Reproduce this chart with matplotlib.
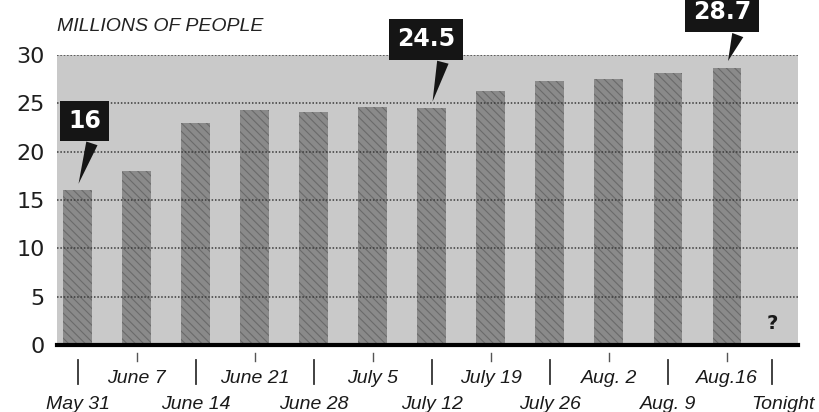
import matplotlib
matplotlib.use("Agg")
import matplotlib.pyplot as plt

# weekly audience, millions of people
weeks = ["May 31", "June 7", "June 14", "June 21", "June 28", "July 5",
         "July 12", "July 19", "July 26", "Aug. 2", "Aug. 9", "Aug.16", "Tonight"]
viewers = [16, 18.0, 23.0, 24.3, 24.1, 24.6, 24.5, 26.3, 27.3, 27.5, 28.1, 28.7]
callouts = {0: "16", 6: "24.5", 11: "28.7"}
yticks = [0, 5, 10, 15, 20, 25, 30]

plt.rcParams["font.family"] = ["Liberation Sans", "DejaVu Sans"]
plt.rcParams["hatch.linewidth"] = 0.8

fig = plt.figure(figsize=(8.2, 4.12), dpi=100)
ax = fig.add_axes([0.0695, 0.1626, 0.9035, 0.704])
ax.set_facecolor("#c9c9c9")

x = list(range(len(viewers)))
ax.bar(x, viewers, width=0.49, color="#8a8a8a", hatch="\\\\\\\\",
       edgecolor="#6a6a6a", linewidth=0, zorder=2)

for v in yticks[1:]:
    ax.axhline(v, color="#3a3a3a", linestyle=(0, (1, 1.2)), linewidth=1.1, zorder=3)

ax.set_xlim(-0.35, 12.2)
ax.set_ylim(0, 30)
for s in ["top", "right", "left"]:
    ax.spines[s].set_visible(False)
ax.spines["bottom"].set_linewidth(3)
ax.spines["bottom"].set_zorder(5)

ax.set_yticks(yticks)
ax.set_yticklabels([str(v) for v in yticks], family="DejaVu Sans", fontsize=16, color="#1e1e1e")
ax.tick_params(axis="y", length=0, pad=9)
ax.set_xticks([])

# date labels on two rows with tick marks
xt = ax.get_xaxis_transform()
for i, name in enumerate(weeks):
    pos = i if name != "Tonight" else i - 0.24
    if i % 2 == 0:
        ax.plot([pos, pos], [-0.05, -0.135], transform=xt, color="#333", lw=1.3, clip_on=False)
        lx = pos if name != "Tonight" else i - 0.05
        ax.annotate(name, (lx, 0), xycoords=xt, xytext=(0, -46), textcoords="offset points",
                    ha="center", va="baseline", fontsize=14, style="italic", color="#1a1a1a")
    else:
        ax.plot([pos, pos], [-0.028, -0.055], transform=xt, color="#555", lw=1.0, clip_on=False)
        ax.annotate(name, (pos, 0), xycoords=xt, xytext=(0, -27), textcoords="offset points",
                    ha="center", va="baseline", fontsize=14, style="italic", color="#1a1a1a")

ax.text(len(weeks) - 1.24, 1.2, "?", ha="center", va="bottom", fontsize=14,
        fontweight="bold", color="#1a1a1a", family="DejaVu Sans")

# black callout boxes with slanted pointers
offsets = {0: (0.12, 23.2), 6: (5.9, 31.6), 11: (10.92, 34.4)}
for i, label in callouts.items():
    ax.annotate(label, (i, viewers[i] + 0.4), xytext=offsets[i], textcoords="data",
                ha="center", va="center", fontsize=17, fontweight="bold", color="white",
                family="DejaVu Sans", annotation_clip=False, zorder=6,
                bbox=dict(boxstyle="square,pad=0.34", fc="#151515", ec="none"),
                arrowprops=dict(arrowstyle="wedge,tail_width=0.5,shrink_factor=0.5",
                                fc="#151515", ec="none", relpos=(0.85, 0.1)))

fig.text(0.0695, 0.925, "MILLIONS OF PEOPLE", fontsize=14, style="italic", color="#222")

fig.savefig("out.png", dpi=100)
